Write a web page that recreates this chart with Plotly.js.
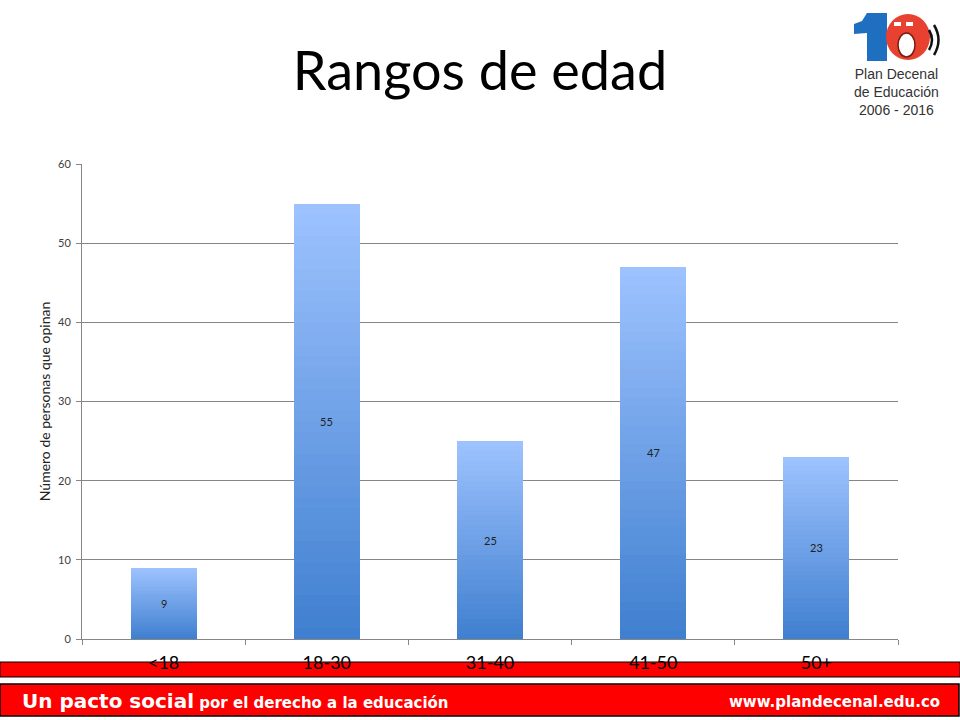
<!DOCTYPE html>
<html><head><meta charset="utf-8">
<script src="https://cdn.plot.ly/plotly-3.0.1.min.js"></script>
<style>body{margin:0;background:#fff}#c{width:960px;height:720px}</style>
</head><body><div id="c"></div>
<script>
const categories = ['<18', '18-30', '31-40', '41-50', '50+'];
const values = [9, 55, 25, 47, 23];
const yTicks = [0, 10, 20, 30, 40, 50, 60];

const W = 960, H = 720;
const M = {l: 82, r: 62, t: 164, b: 81};
const PW = W - M.l - M.r, PH = H - M.t - M.b;
const px = x => (x - M.l) / PW;
const py = y => (H - M.b - y) / PH;

// Per-bar vertical gradient built from stacked slices of each value
const N = 40;
const c0 = [63, 127, 207], c1 = [158, 195, 255];
const traces = [];
for (let k = 0; k < N; k++) {
  const t = (k + 0.5) / N;
  const col = `rgb(${c0.map((a, i) => Math.round(a + (c1[i] - a) * t)).join(',')})`;
  traces.push({
    type: 'bar', x: categories, y: values.map(v => v / N),
    marker: {color: col, line: {width: 0}}, hoverinfo: 'skip', showlegend: false
  });
}

const fontUI = 'Lato, "Noto Sans", sans-serif';
const ann = values.map((v, i) => ({
  x: categories[i], y: v / 2, xref: 'x', yref: 'y', text: String(v), showarrow: false,
  font: {family: fontUI, size: 11, color: '#222'}
}));

// footer texts
ann.push({xref: 'paper', yref: 'paper', x: px(20), y: py(701), xanchor: 'left', yanchor: 'middle', showarrow: false,
  text: '<b><span style="font-size:20px">Un pacto social</span> por el derecho a la educación</b>',
  font: {family: '"DejaVu Sans", sans-serif', size: 15, color: '#fff'}});
ann.push({xref: 'paper', yref: 'paper', x: px(942), y: py(702), xanchor: 'right', yanchor: 'middle', showarrow: false,
  text: '<b>www.plandecenal.edu.co</b>', font: {family: '"DejaVu Sans", sans-serif', size: 15, color: '#fff'}});
// logo caption
ann.push({xref: 'paper', yref: 'paper', x: px(896), y: py(92), xanchor: 'center', yanchor: 'middle', showarrow: false,
  text: 'Plan Decenal<br>de Educación<br>2006 - 2016',
  font: {family: '"Liberation Sans", sans-serif', size: 14, color: '#333'}});

const P = (pts) => 'M ' + pts.map(([x, y]) => `${px(x)} ${py(y)}`).join(' L ') + ' Z';
const shapes = [
  {type: 'rect', xref: 'paper', yref: 'paper', x0: px(0), x1: px(960), y0: py(662), y1: py(677),
    fillcolor: '#ff0000', line: {color: '#000', width: 1}, layer: 'below'},
  {type: 'rect', xref: 'paper', yref: 'paper', x0: px(0), x1: px(959), y0: py(684), y1: py(716),
    fillcolor: '#ff0000', line: {color: '#000', width: 1.5}, layer: 'below'},
  // logo: blue "1" graphic
  {type: 'path', xref: 'paper', yref: 'paper',
    path: P([[867, 13], [887, 13], [887, 61], [867, 61], [867, 33], [854, 34], [854, 24], [862, 21]]),
    fillcolor: '#1f6fc0', line: {width: 0}},
  // logo: red circle with face
  {type: 'circle', xref: 'paper', yref: 'paper', x0: px(886), x1: px(930), y0: py(60), y1: py(14),
    fillcolor: '#e8412f', line: {width: 0}},
  {type: 'rect', xref: 'paper', yref: 'paper', x0: px(894), x1: px(901), y0: py(26), y1: py(22),
    fillcolor: '#fff', line: {width: 0}},
  {type: 'rect', xref: 'paper', yref: 'paper', x0: px(906), x1: px(913), y0: py(26), y1: py(22),
    fillcolor: '#fff', line: {width: 0}},
  {type: 'circle', xref: 'paper', yref: 'paper', x0: px(898), x1: px(915), y0: py(57), y1: py(33),
    fillcolor: '#fff', line: {color: '#7a1a10', width: 1.5}},
  {type: 'path', xref: 'paper', yref: 'paper',
    path: `M ${px(929)} ${py(30)} Q ${px(935)} ${py(40)} ${px(929)} ${py(50)}`, line: {color: '#111', width: 2.5}},
  {type: 'path', xref: 'paper', yref: 'paper',
    path: `M ${px(934)} ${py(25)} Q ${px(943)} ${py(40)} ${px(934)} ${py(55)}`, line: {color: '#111', width: 2.5}}
];

const layout = {
  width: W, height: H, margin: M, paper_bgcolor: '#fff', plot_bgcolor: '#fff',
  barmode: 'stack', bargap: 0.595, showlegend: false,
  title: {text: 'Rangos de edad', x: 0.5, xanchor: 'center', y: 1 - 71 / H, yanchor: 'middle', yref: 'container',
    font: {family: fontUI, size: 54, color: '#000'}},
  xaxis: {type: 'category', showline: true, linecolor: '#868686', linewidth: 1, ticks: 'outside', tickson: 'boundaries',
    ticklen: 5, tickcolor: '#868686', showgrid: false, ticklabelstandoff: 7,
    tickfont: {family: fontUI, size: 18, color: '#000'}, fixedrange: true},
  yaxis: {range: [0, 60], tickvals: yTicks, showline: true, linecolor: '#868686', linewidth: 1,
    ticks: 'outside', ticklen: 5, tickcolor: '#868686', showgrid: true, gridcolor: '#868686', gridwidth: 1,
    zeroline: false, ticklabelstandoff: 3,
    tickfont: {family: fontUI, size: 11, color: '#404040'},
    title: {text: 'Número de personas que opinan', standoff: 4, font: {family: fontUI, size: 14, color: '#222'}}},
  annotations: ann, shapes: shapes
};

Plotly.newPlot('c', traces, layout, {displayModeBar: false, staticPlot: true});
</script></body></html>
